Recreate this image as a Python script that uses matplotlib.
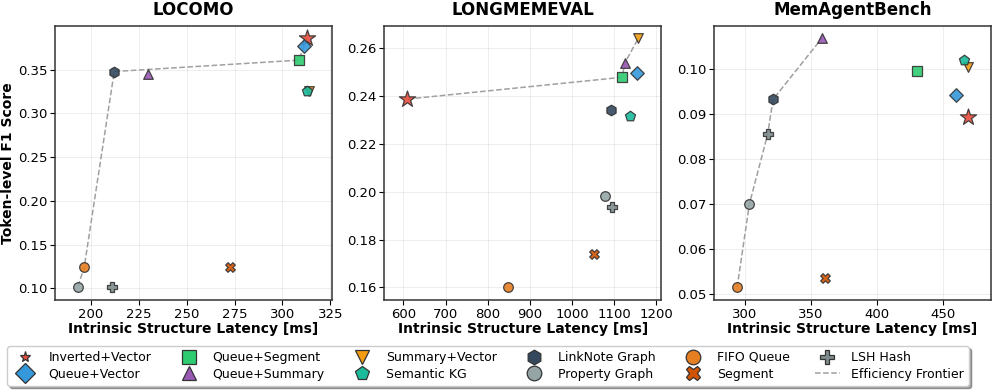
import matplotlib
matplotlib.use('Agg')
import matplotlib.pyplot as plt
from matplotlib.lines import Line2D
from matplotlib.ticker import MultipleLocator
import numpy as np

# structures, in legend order
names = ['Inverted+Vector', 'Queue+Vector', 'Queue+Segment', 'Queue+Summary',
         'Summary+Vector', 'Semantic KG', 'LinkNote Graph', 'Property Graph',
         'FIFO Queue', 'Segment', 'LSH Hash']
markers = ['*', 'D', 's', '^', 'v', 'p', 'h', 'o', 'o', 'X', 'P']
colors = ['#e74c3c', '#3498db', '#2ecc71', '#9b59b6', '#f39c12', '#1abc9c',
          '#34495e', '#95a5a6', '#e67e22', '#d35400', '#7f8c8d']

# latency [ms] / F1 per benchmark
locomo_lat = [312.8, 311.4, 308.4, 229.8, 313.7, 312.8, 212.2, 193.2, 196.5, 272.7, 211.2]
locomo_f1 = [0.386, 0.377, 0.361, 0.345, 0.326, 0.326, 0.348, 0.102, 0.124, 0.124, 0.101]
locomo_front = ['Property Graph', 'FIFO Queue', 'LinkNote Graph', 'Queue+Segment',
                'Queue+Vector', 'Inverted+Vector']

lme_lat = [609.5, 1154.4, 1118.7, 1125.8, 1157.5, 1138.5, 1093.4, 1079.0, 848.0, 1051.3, 1095.0]
lme_f1 = [0.2388, 0.2495, 0.2479, 0.2540, 0.2642, 0.2318, 0.2342, 0.1982, 0.1600, 0.1738, 0.1937]
lme_front = ['Inverted+Vector', 'Queue+Segment', 'Queue+Summary', 'Summary+Vector']

mab_lat = [468.7, 459.6, 430.6, 358.3, 468.9, 465.6, 321.4, 303.5, 294.2, 360.4, 317.3]
mab_f1 = [0.0894, 0.0942, 0.0997, 0.1069, 0.1005, 0.1020, 0.0933, 0.0700, 0.0514, 0.0536, 0.0855]
mab_front = ['FIFO Queue', 'Property Graph', 'LSH Hash', 'LinkNote Graph', 'Queue+Summary']

panels = [('LOCOMO', locomo_lat, locomo_f1, locomo_front, 25),
          ('LONGMEMEVAL', lme_lat, lme_f1, lme_front, 100),
          ('MemAgentBench', mab_lat, mab_f1, mab_front, 50)]

fig, axes = plt.subplots(1, 3, figsize=(9.96, 3.92), dpi=100)
plt.subplots_adjust(left=0.055, right=0.995, top=0.934, bottom=0.235, wspace=0.19)

for ax, (title, lat, f1, front, step) in zip(axes, panels):
    # efficiency frontier
    idx = [names.index(n) for n in front]
    ax.plot([lat[i] for i in idx], [f1[i] for i in idx], '--', color='#a0a0a0',
            lw=1.1, zorder=1)
    for i, n in enumerate(names):
        if markers[i] == '*':
            s = 150
        elif markers[i] in ('h', 'p'):
            s = 58
        else:
            s = 48
        ax.scatter(lat[i], f1[i], marker=markers[i], s=s, c=colors[i], alpha=0.9,
                   edgecolors='#333333', linewidths=0.9, zorder=3)
    ax.set_title(title, fontsize=12, fontweight='bold', pad=8)
    ax.set_xlabel('Intrinsic Structure Latency [ms]', fontsize=10, fontweight='bold', labelpad=1)
    ax.margins(x=0.1, y=0.05)
    ax.xaxis.set_major_locator(MultipleLocator(step))
    ax.grid(True, alpha=0.25, lw=0.6)
    ax.tick_params(labelsize=9.5, pad=2)
    for sp in ax.spines.values():
        sp.set_color('#333333')
        sp.set_linewidth(1.1)

axes[0].set_ylabel('Token-level F1 Score', fontsize=10, fontweight='bold', labelpad=2)
axes[0].set_yticks([0.10, 0.15, 0.20, 0.25, 0.30, 0.35])

handles = []
for i, n in enumerate(names):
    ms = 8 if markers[i] == '*' else 10.5
    handles.append(Line2D([], [], ls='none', marker=markers[i], markersize=ms,
                          markerfacecolor=colors[i], markeredgecolor='#333333',
                          markeredgewidth=0.9, label=n))
handles.append(Line2D([], [], ls='--', color='#a0a0a0', lw=1.1, label='Efficiency Frontier'))

fig.legend(handles=handles, loc='lower center', bbox_to_anchor=(0.49, 0.0), ncol=6,
           fontsize=9, frameon=True, fancybox=True, shadow=True,
           columnspacing=2.0, handletextpad=0.9, labelspacing=0.3, borderpad=0.4)

fig.savefig('out.png', dpi=100)
